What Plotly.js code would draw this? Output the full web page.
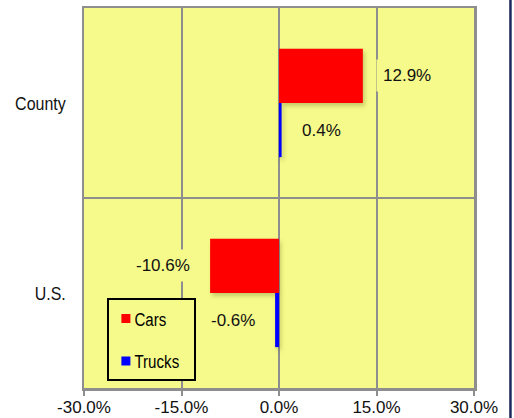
<!DOCTYPE html>
<html>
<head>
<meta charset="utf-8">
<script src="https://cdn.plot.ly/plotly-3.0.1.min.js"></script>
<style>
  html, body { margin: 0; padding: 0; background: #ffffff; }
  #chart { width: 514px; height: 418px; }
  .bars path { filter: drop-shadow(2px 3px 2px rgba(60,60,0,0.25)); }
</style>
</head>
<body>
<div id="chart"></div>
<script>
// ---- data ----
const categories = ['County', 'U.S.'];
const carsValues = [12.9, -10.6];
const trucksValues = [0.4, -0.6];
const seriesNames = ['Cars', 'Trucks'];
const xTickValues = [-30, -15, 0, 15, 30];

// ---- styling ----
const plotBg = '#F5FA8A';
const gridColor = '#8E8E8E';
const bargap = 0.43;
const labelFont = { family: 'Liberation Sans, Arial, sans-serif', size: 17, color: '#111111' };
const narrowFont = 'Liberation Sans, Arial, sans-serif';
const condense = 0.84;

const traces = [
  {
    type: 'bar', orientation: 'h', name: seriesNames[0], legendgroup: 'a',
    y: categories, x: carsValues,
    marker: { color: '#FF0000', line: { width: 0 } },
    hoverinfo: 'skip'
  },
  {
    type: 'bar', orientation: 'h', name: seriesNames[1], legendgroup: 'b',
    y: categories, x: trucksValues,
    marker: { color: '#0000FF', line: { width: 0 } },
    hoverinfo: 'skip'
  }
];

// data labels from the data arrays
const barW = (1 - bargap) / 2;
const annotations = [];
[carsValues, trucksValues].forEach((vals, s) => {
  const off = (s === 0 ? -1 : 1) * barW / 2;
  vals.forEach((v, i) => {
    annotations.push({
      x: v, y: i + off, xref: 'x', yref: 'y',
      text: v.toFixed(1) + '%',
      showarrow: false,
      xanchor: v >= 0 ? 'left' : 'right',
      xshift: v >= 0 ? 13 : -13,
      bgcolor: plotBg,
      borderpad: 6,
      font: labelFont
    });
  });
});

const layout = {
  width: 514, height: 418,
  margin: { l: 84, r: 40, t: 8, b: 30 },
  paper_bgcolor: '#ffffff',
  plot_bgcolor: plotBg,
  barmode: 'group',
  bargap: bargap,
  bargroupgap: 0,
  showlegend: true,
  legend: {
    x: 0.06, y: 0.236, xanchor: 'left', yanchor: 'top',
    bgcolor: plotBg, bordercolor: '#000000', borderwidth: 2,
    font: { family: narrowFont, size: 18, color: '#000000' },
    traceorder: 'grouped', tracegroupgap: 16,
    itemwidth: 30
  },
  xaxis: {
    range: [-30, 30],
    tickvals: xTickValues,
    ticktext: xTickValues.map(v => v.toFixed(1) + '%'),
    showgrid: true, gridcolor: gridColor, gridwidth: 2,
    zeroline: false,
    showline: true, mirror: true, linecolor: gridColor, linewidth: 2.5,
    ticks: 'outside', ticklen: 5, tickwidth: 2, tickcolor: gridColor,
    ticklabelstandoff: -3,
    tickfont: { family: 'Liberation Sans, Arial, sans-serif', size: 17, color: '#111111' },
    fixedrange: true
  },
  yaxis: {
    type: 'category',
    categoryorder: 'array', categoryarray: categories,
    autorange: 'reversed',
    tickson: 'boundaries',
    showgrid: true, gridcolor: gridColor, gridwidth: 2,
    showline: true, mirror: true, linecolor: gridColor, linewidth: 2.5,
    ticks: '', ticklabelstandoff: 12,
    tickfont: { family: narrowFont, size: 19, color: '#111111' },
    fixedrange: true
  },
  annotations: annotations,
  shapes: [
    { type: 'line', xref: 'paper', yref: 'paper',
      x0: 1.0935, x1: 1.0935, y0: -0.1, y1: 1.05,
      line: { color: '#1B2A5C', width: 2.5 } }
  ]
};

Plotly.newPlot('chart', traces, layout, { displayModeBar: false, staticPlot: true }).then(gd => {
  // narrow-looking category labels
  gd.querySelectorAll('.ytick text').forEach(t => {
    const w = t.getComputedTextLength();
    t.setAttribute('textLength', (w * condense).toFixed(1));
    t.setAttribute('lengthAdjust', 'spacingAndGlyphs');
  });
  // narrow legend texts, closer to smaller swatches
  const textX = 25;
  let maxW = 0;
  gd.querySelectorAll('.legend .legendtext').forEach(t => {
    const w = t.getComputedTextLength() * condense;
    maxW = Math.max(maxW, w);
    t.setAttribute('textLength', w.toFixed(1));
    t.setAttribute('lengthAdjust', 'spacingAndGlyphs');
    t.setAttribute('x', textX);
  });
  gd.querySelectorAll('.legend .legendpoints path').forEach(p => {
    p.setAttribute('d', 'M4.5,4.5H-4.5V-4.5H4.5Z');
    p.setAttribute('transform', 'translate(16.5,0)');
  });
  const bg = gd.querySelector('.legend rect.bg');
  if (bg) bg.setAttribute('width', (textX + 1 + maxW + 16).toFixed(1));
});
</script>
</body>
</html>
